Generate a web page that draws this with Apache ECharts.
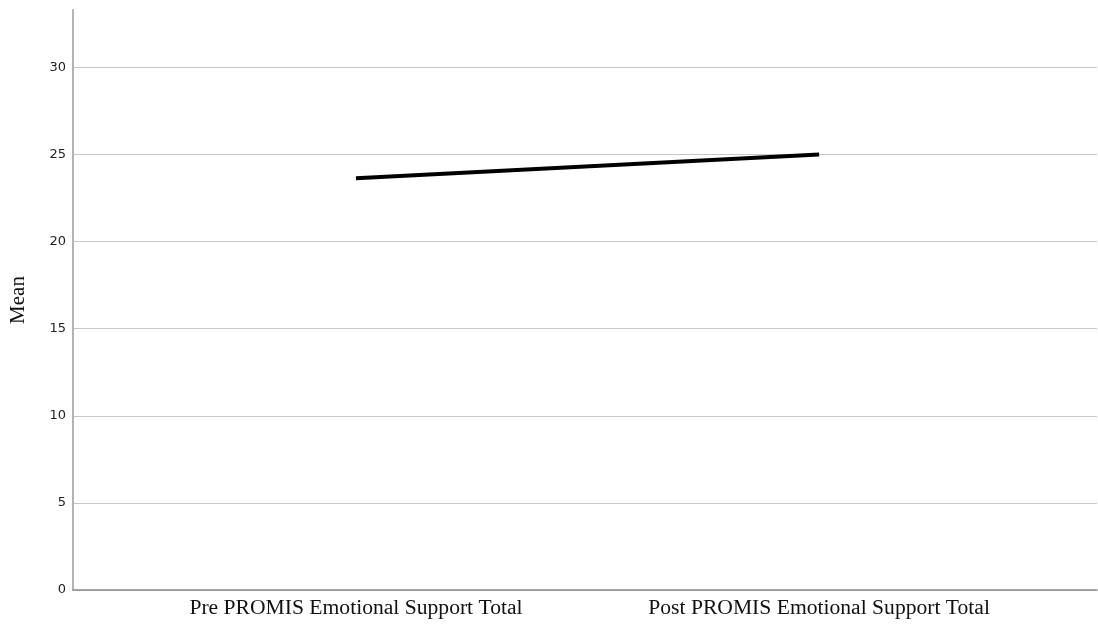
<!DOCTYPE html>
<html>
<head>
<meta charset="utf-8">
<script src="https://cdn.jsdelivr.net/npm/echarts@6/dist/echarts.min.js"></script>
<style>
  html, body { margin: 0; padding: 0; background: #fff; }
  #main { width: 1098px; height: 624px; }
</style>
</head>
<body>
<div id="main"></div>
<script>
// categories on the x axis (placed at 0 and 1)
const categories = ['Pre PROMIS Emotional Support Total', 'Post PROMIS Emotional Support Total'];
// mean values
const means = [23.64, 25.0];
// y tick labels
const yTicks = [0, 5, 10, 15, 20, 25, 30];

const chart = echarts.init(document.getElementById('main'));

const option = {
    animation: false,
    grid: { left: 73, right: 1, top: 10, bottom: 34, outerBoundsMode: 'none', containLabel: false },
    xAxis: {
        type: 'value',
        min: -0.611,
        max: 1.6,
        axisLine: { show: true, onZero: false, lineStyle: { color: '#8c8c8c', width: 1.5 } },
        axisTick: { show: false },
        splitLine: { show: false },
        axisLabel: {
            customValues: [0, 1],
            formatter: v => categories[Math.round(v)] || '',
            fontFamily: 'Liberation Serif',
            fontSize: 21.6,
            color: '#111',
            margin: 7
        }
    },
    yAxis: {
        type: 'value',
        min: 0,
        max: 33.3,
        interval: 5,
        name: 'Mean',
        nameLocation: 'middle',
        nameRotate: 90,
        nameGap: 44,
        nameTextStyle: { fontFamily: 'Liberation Serif', fontSize: 21, color: '#111' },
        axisLine: { show: true, onZero: false, lineStyle: { color: '#b4b4b4', width: 2 } },
        axisTick: { show: false },
        axisLabel: {
            showMaxLabel: false,
            formatter: v => yTicks.includes(v) ? String(v) : '',
            fontFamily: 'DejaVu Sans',
            fontSize: 13,
            color: '#222',
            margin: 7
        },
        splitLine: { show: true, showMaxLine: false, lineStyle: { color: '#c6c6c6', width: 1 } }
    },
    series: [{
        type: 'line',
        data: means.map((m, i) => [i, m]),
        showSymbol: false,
        symbol: 'none',
        lineStyle: { color: '#000', width: 4, cap: 'butt' }
    }]
};

chart.setOption(option);
</script>
</body>
</html>
